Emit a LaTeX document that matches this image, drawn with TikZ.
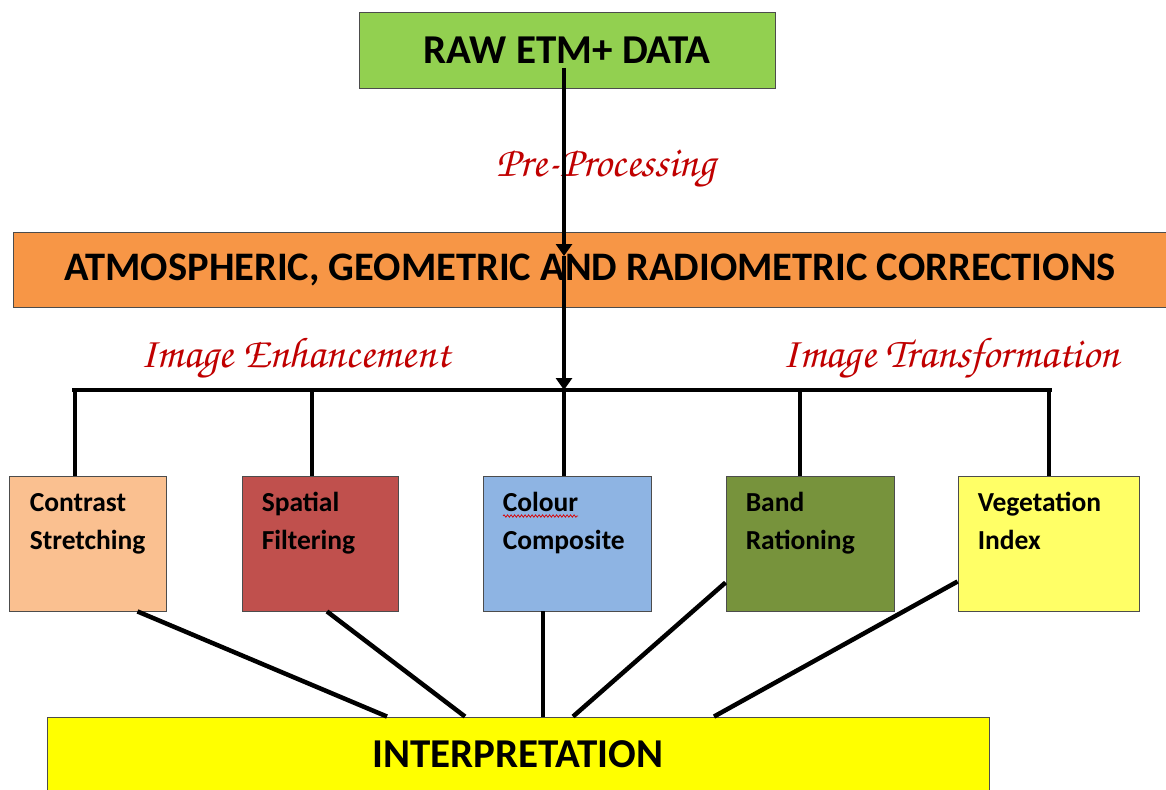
\documentclass[tikz,border=0pt]{standalone}
\usepackage{fontspec}
\setmainfont{Carlito}
\newfontfamily\chorus{TeX Gyre Chorus}
\usetikzlibrary{arrows.meta,decorations.pathmorphing}
\definecolor{rawgreen}{HTML}{92D050}
\definecolor{corrorange}{HTML}{F79646}
\definecolor{cspeach}{HTML}{FAC090}
\definecolor{sfred}{HTML}{C0504D}
\definecolor{ccblue}{HTML}{8EB4E3}
\definecolor{brgreen}{HTML}{77933C}
\definecolor{viyellow}{HTML}{FFFF66}
\definecolor{ipyellow}{HTML}{FFFF00}
\definecolor{scriptred}{HTML}{C00000}
\tikzset{
  box/.style={draw=black!70, line width=0.9pt, inner sep=0pt},
  bigtext/.style={font=\fontsize{41}{48}\selectfont\bfseries},
  btext/.style={font=\fontsize{27.5}{38}\selectfont\bfseries, align=left, inner sep=0pt, anchor=north west},
  sclabel/.style={font=\fontsize{43}{48}\chorus, text=scriptred, inner sep=0pt, anchor=base},
  conn/.style={line width=4.5pt},
  arrline/.style={line width=3.4pt, -{Triangle[width=16pt,length=12pt]}},
}
\begin{document}
\begin{tikzpicture}[x=1pt,y=-1pt]
\clip (0,0) rectangle (1166,789);
\fill[white] (0,0) rectangle (1166,789);
% boxes
\node[box, fill=rawgreen, minimum width=416pt, minimum height=76pt, bigtext] (raw) at (567,50) {RAW ETM+ DATA};
\node[box, fill=corrorange, minimum width=1154pt, minimum height=75pt, bigtext, font=\fontsize{40.5}{48}\selectfont\bfseries] (corr) at (590,269.5) {ATMOSPHERIC, GEOMETRIC AND RADIOMETRIC CORRECTIONS};
\node[box, fill=cspeach, minimum width=157pt, minimum height=135pt] (cs) at (87.5,543.5) {};
\node[box, fill=sfred, minimum width=156pt, minimum height=135pt] (sf) at (320,543.5) {};
\node[box, fill=ccblue, minimum width=168pt, minimum height=135pt] (cc) at (567,543.5) {};
\node[box, fill=brgreen, minimum width=168pt, minimum height=135pt] (br) at (810,543.5) {};
\node[box, fill=viyellow, minimum width=181pt, minimum height=135pt] (vi) at (1048.5,543.5) {};
\node[box, fill=ipyellow, minimum width=942pt, minimum height=74pt, bigtext] (ip) at (518,754) {INTERPRETATION};
% box texts
\node[btext] (cst) at ([xshift=21pt,yshift=-9.4pt]cs.north west) {\strut Contrast\\Stretching};
\node[btext] (sft) at ([xshift=20pt,yshift=-9.4pt]sf.north west) {\strut Spatial\\Filtering};
\node[btext] (cct) at ([xshift=20pt,yshift=-9.4pt]cc.north west) {\strut Colour\\Composite};
\node[btext] (brt) at ([xshift=20pt,yshift=-9.4pt]br.north west) {\strut Band\\Rationing};
\node[btext] (vit) at ([xshift=20pt,yshift=-9.4pt]vi.north west) {\strut Vegetation\\Index};
% spelling underline under Colour
\coordinate (wl) at (503,516);
\coordinate (wr) at (578,516);
\draw[red!85!black, line width=0.7pt, decorate, decoration={snake, amplitude=1.2pt, segment length=3.5pt}] (wl) -- (wr);
% script labels
\node[sclabel] (pre) at (606,176) {Pre-Processing};
\node[sclabel] (enh) at (295,367) {Image Enhancement};
\node[sclabel] (trf) at (951,367) {Image Transformation};
% main arrow
\coordinate (a0) at (564,68);
\coordinate (a1) at (564,256);
\coordinate (a2) at (564,390);
\draw[arrline] (a0) -- (a1);
\draw[arrline] (a1) -- (a2);
% bar and drops
\coordinate (barL) at (72,390);
\coordinate (barR) at (1052,390);
\draw[conn] (barL) -- (barR);
\coordinate (d1) at (75,390);
\coordinate (d2) at (312,390);
\coordinate (d3) at (564,390);
\coordinate (d4) at (800,390);
\coordinate (d5) at (1049,390);
\draw[conn] (d1) -- (d1 |- cs.north);
\draw[conn] (d2) -- (d2 |- sf.north);
\draw[conn] (d3) -- (d3 |- cc.north);
\draw[conn] (d4) -- (d4 |- br.north);
\draw[conn] (d5) -- (d5 |- vi.north);
% connectors to interpretation
\draw[conn] ([xshift=50pt]cs.south) -- ([xshift=-131pt]ip.north);
\draw[conn] ([xshift=7pt]sf.south) -- ([xshift=-53pt]ip.north);
\draw[conn] ([xshift=-24pt]cc.south) -- ([xshift=25pt]ip.north);
\draw[conn] ([yshift=-39pt]br.west) -- ([xshift=55pt]ip.north);
\draw[conn] ([yshift=-38pt]vi.west) -- ([xshift=196pt]ip.north);
\end{tikzpicture}
\end{document}
